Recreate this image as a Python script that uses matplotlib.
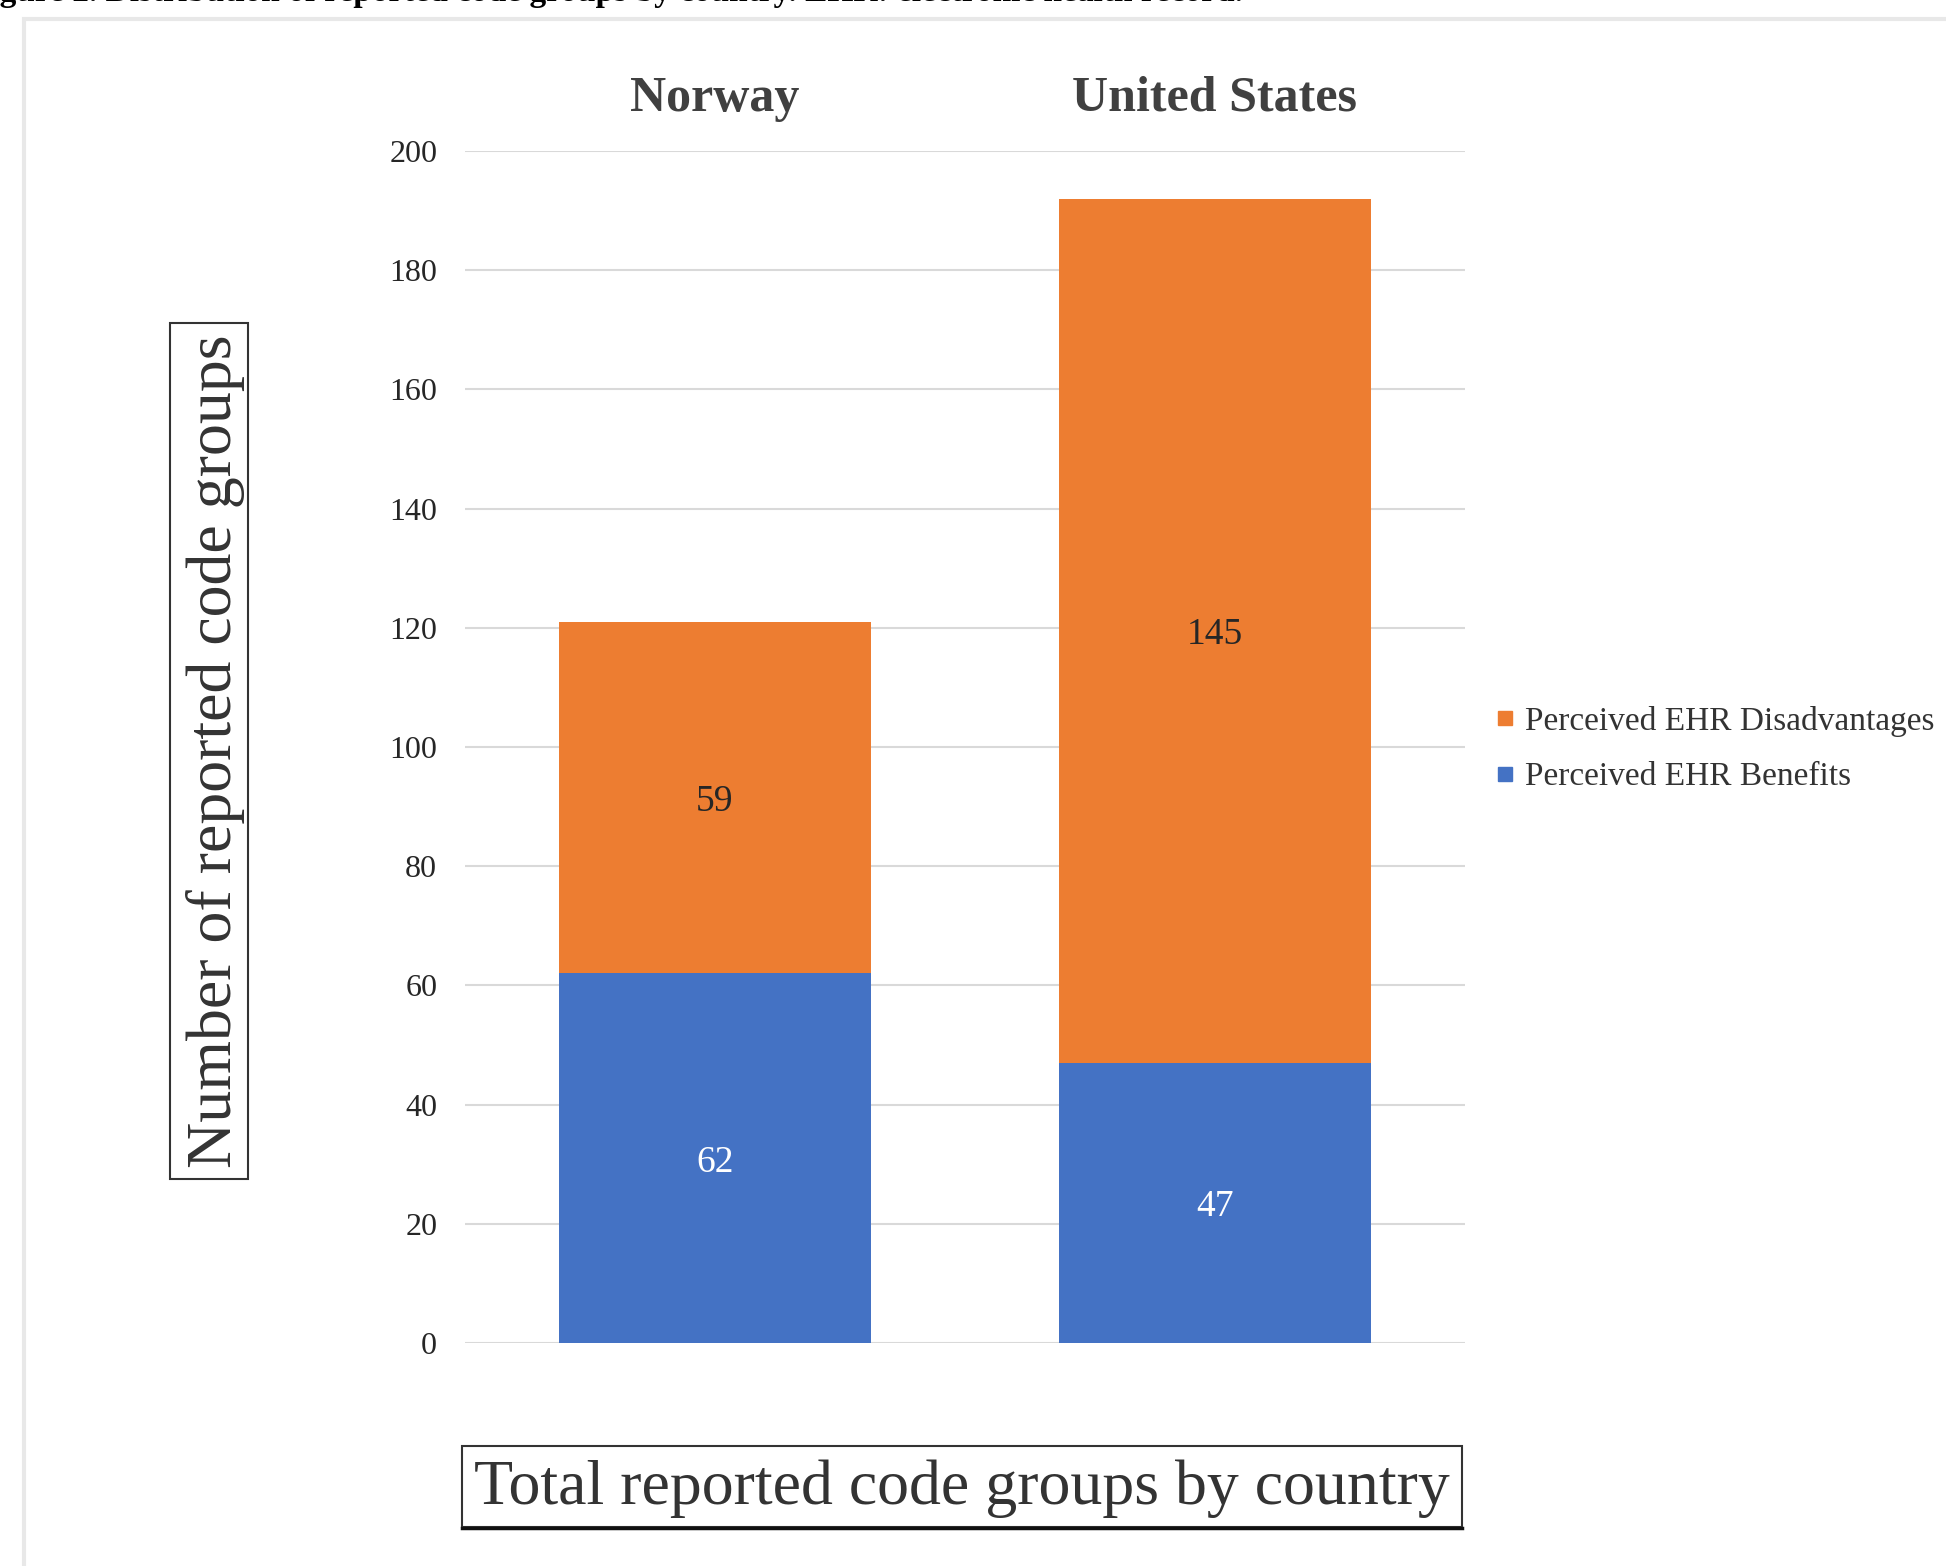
import matplotlib
matplotlib.use("Agg")
import matplotlib.pyplot as plt
from matplotlib.patches import Rectangle
from matplotlib.lines import Line2D

# data
countries = ["Norway", "United States"]
benefits = [62, 47]
disadvantages = [59, 145]
yticks = list(range(0, 201, 20))

blue = "#4472C4"
orange = "#ED7D31"
W, H = 1946, 1566

plt.rcParams["font.family"] = ["Liberation Serif", "DejaVu Serif"]

fig = plt.figure(figsize=(W / 100, H / 100), dpi=100)
fig.patch.set_facecolor("white")

# axes placed in pixel terms
ax = fig.add_axes([465 / W, 1 - 1343 / H, 1000 / W, (1343 - 151) / H])
x = range(len(countries))
ax.bar(x, benefits, width=0.625, color=blue, zorder=3)
ax.bar(x, disadvantages, width=0.625, bottom=benefits, color=orange, zorder=3)

for i in x:
    ax.annotate(str(benefits[i]), (i, benefits[i] / 2), xytext=(0, -3),
                textcoords="offset points", ha="center", va="center",
                fontsize=27, color="white", zorder=4)
    ax.annotate(str(disadvantages[i]), (i, benefits[i] + disadvantages[i] / 2),
                xytext=(0, -3), textcoords="offset points", ha="center", va="center",
                fontsize=27, color="#262626", zorder=4)
    ax.text(i, 1.044, countries[i], transform=ax.get_xaxis_transform(),
            ha="center", va="center", fontsize=36, fontweight="bold", color="#404040")

ax.set_xlim(-0.5, 1.5)
ax.set_ylim(0, 200)
ax.set_yticks(yticks)
ax.set_xticks([])
ax.tick_params(axis="y", length=0, pad=20, labelsize=23, labelcolor="#262626")
ax.grid(axis="y", color="#d9d9d9", linewidth=1.5, zorder=0)
for s in ax.spines.values():
    s.set_visible(False)

# boxed axis titles
fig.text(216 / W, 1 - 751 / H, "Number of reported code groups", rotation=90,
         ha="center", va="center", fontsize=46, color="#333333")
fig.add_artist(Rectangle((170 / W, 1 - 1179 / H), 78 / W, 856 / H, fill=False,
                         edgecolor="#333333", linewidth=1.5, transform=fig.transFigure))
fig.text(962 / W, 1 - 1489 / H, "Total reported code groups by country",
         ha="center", va="center", fontsize=46, color="#333333")
fig.add_artist(Rectangle((462 / W, 1 - 1527 / H), 1000 / W, 81 / H, fill=False,
                         edgecolor="#333333", linewidth=1.5, transform=fig.transFigure))
fig.add_artist(Line2D([462 / W, 1462 / W], [1 - 1528 / H] * 2, color="#111111",
                      linewidth=2.5, transform=fig.transFigure))

# legend
handles = [Line2D([], [], marker="s", linestyle="", color=orange, markersize=10),
           Line2D([], [], marker="s", linestyle="", color=blue, markersize=10)]
fig.legend(handles, ["Perceived EHR Disadvantages", "Perceived EHR Benefits"],
           loc="center left", bbox_to_anchor=(1495 / W, 1 - 749 / H), frameon=False,
           fontsize=24, handlelength=0.6, handletextpad=0.3, labelspacing=0.75,
           borderpad=0, borderaxespad=0, labelcolor="#333333")

# light frame and clipped caption from the page
fig.add_artist(Rectangle((24 / W, -0.1), 1.2, 1.1 - 19 / H, fill=False,
                         edgecolor="#e8e8e8", linewidth=3, transform=fig.transFigure))
fig.text(-30 / W, 1 - 1 / H,
         "Figure 2. Distribution of reported code groups by country. EHR: electronic health record.",
         ha="left", va="baseline", fontsize=24, fontweight="bold", color="black")

fig.savefig("out.png", dpi=100)
